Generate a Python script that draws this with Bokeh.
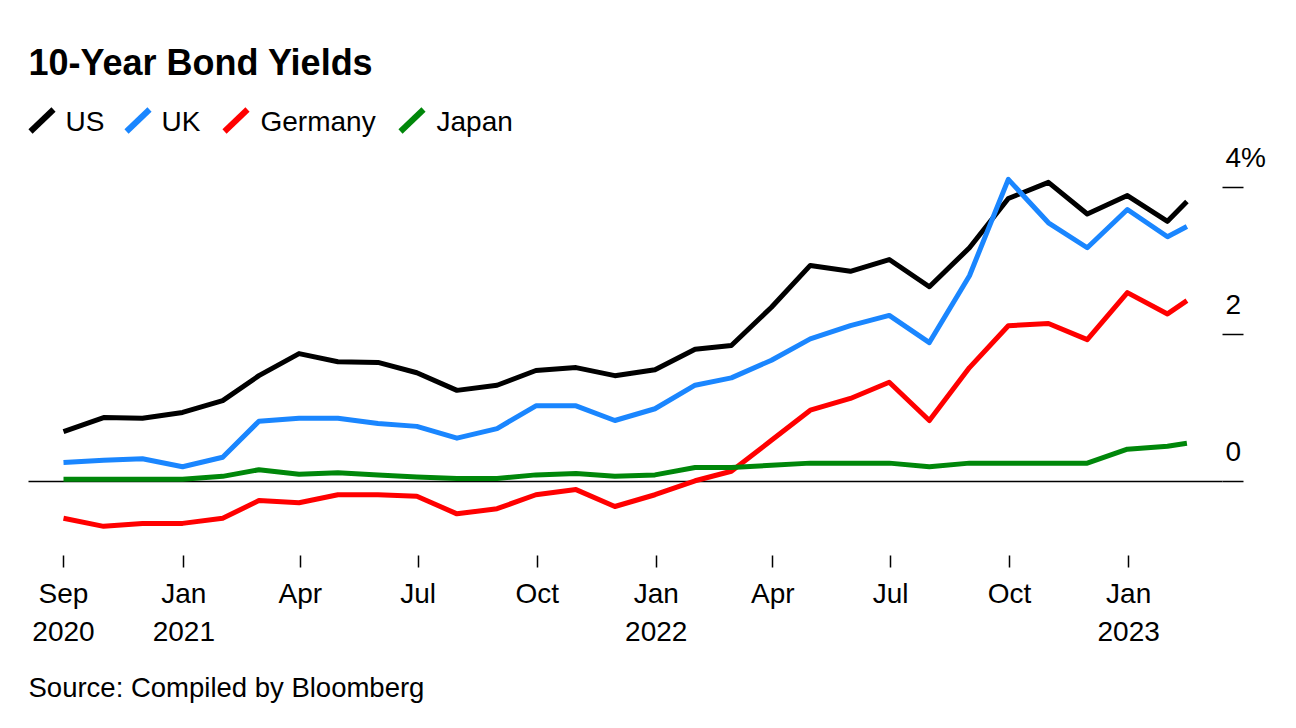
import pandas as pd
from bokeh.plotting import figure
from bokeh.layouts import column
from bokeh.models import Label, Arrow, FixedTicker, Range1d
from bokeh.embed import file_html
from bokeh.resources import INLINE

# ---------------- data ----------------
dates = ["2020-09-30", "2020-10-31", "2020-11-30", "2020-12-31",
         "2021-01-31", "2021-02-28", "2021-03-31", "2021-04-30", "2021-05-31", "2021-06-30",
         "2021-07-31", "2021-08-31", "2021-09-30", "2021-10-31", "2021-11-30", "2021-12-31",
         "2022-01-31", "2022-02-28", "2022-03-31", "2022-04-30", "2022-05-31", "2022-06-30",
         "2022-07-31", "2022-08-31", "2022-09-30", "2022-10-31", "2022-11-30", "2022-12-31",
         "2023-01-31", "2023-02-15"]
us = [0.68, 0.87, 0.86, 0.94, 1.10, 1.44, 1.74, 1.63, 1.62, 1.48, 1.24, 1.31, 1.51, 1.55, 1.44,
      1.52, 1.80, 1.85, 2.37, 2.94, 2.86, 3.02, 2.65, 3.18, 3.85, 4.07, 3.64, 3.89, 3.54, 3.81]
uk = [0.26, 0.29, 0.31, 0.20, 0.33, 0.82, 0.86, 0.86, 0.79, 0.75, 0.59, 0.72, 1.03, 1.03, 0.83,
      0.99, 1.31, 1.41, 1.65, 1.94, 2.12, 2.26, 1.89, 2.80, 4.11, 3.52, 3.18, 3.70, 3.33, 3.47]
germany = [-0.50, -0.61, -0.57, -0.57, -0.50, -0.26, -0.29, -0.18, -0.18, -0.20, -0.44, -0.37,
           -0.18, -0.11, -0.34, -0.18, 0.01, 0.14, 0.56, 0.97, 1.13, 1.35, 0.83, 1.55, 2.12,
           2.15, 1.93, 2.57, 2.28, 2.46]
japan = [0.03, 0.03, 0.03, 0.03, 0.07, 0.16, 0.10, 0.12, 0.09, 0.06, 0.04, 0.04, 0.09, 0.11, 0.07,
         0.09, 0.19, 0.19, 0.22, 0.25, 0.25, 0.25, 0.20, 0.25, 0.25, 0.25, 0.25, 0.44, 0.48, 0.52]

series_names = ["US", "UK", "Germany", "Japan"]
series_colors = ["#000000", "#1a86ff", "#ff0000", "#00870a"]

x_tick_dates = ["2020-09-30", "2021-01-01", "2021-04-01", "2021-07-01", "2021-10-01",
                "2022-01-01", "2022-04-01", "2022-07-01", "2022-10-01", "2023-01-01"]
x_tick_labels = ["Sep\n2020", "Jan\n2021", "Apr", "Jul", "Oct",
                 "Jan\n2022", "Apr", "Jul", "Oct", "Jan\n2023"]
y_ticks = [0, 2, 4]
y_tick_labels = ["0", "2", "4%"]

title_text = "10-Year Bond Yields"
source_text = "Source: Compiled by Bloomberg"

# ---------------- geometry ----------------
FONT = "Liberation Sans"
W = 1280
FRAME_H = 555          # plot frame (title + legend + lines) height in px
FOOT_H = 52
EPOCH = pd.Timestamp("1970-01-01")
DAY_MS = 86400000.0


def to_ms(s):
    return float((pd.Timestamp(s) - EPOCH) / pd.Timedelta(milliseconds=1))


px_per_day = 1104 / 853.0
first_px = 63
x0 = to_ms(dates[0]) - first_px / px_per_day * DAY_MS


def px_to_x(px):
    return x0 + px / px_per_day * DAY_MS


px_per_unit = 73.5
zero_px = 481
y_start = -(FRAME_H - zero_px) / px_per_unit
y_end = zero_px / px_per_unit

x = pd.to_datetime(dates)

p = figure(
    x_axis_type="datetime",
    x_range=Range1d(px_to_x(0), px_to_x(W)),
    y_range=Range1d(y_start, y_end),
    frame_width=W, frame_height=FRAME_H,
    min_border_left=0, min_border_right=0, min_border_top=0, min_border_bottom=105,
    y_axis_location=None,
    output_backend="svg", toolbar_location=None, title=None,
)
p.outline_line_color = None
p.xgrid.visible = False
p.ygrid.visible = False
p.background_fill_color = "white"
p.border_fill_color = "white"

# zero baseline and right-hand tick marks
bl_start, bl_end, tk_end = px_to_x(28), px_to_x(1222), px_to_x(1243)
p.segment(x0=[bl_start], x1=[bl_end], y0=[0], y1=[0], line_color="black", line_width=1.5)
p.segment(x0=[bl_end] * len(y_ticks), x1=[tk_end] * len(y_ticks), y0=y_ticks, y1=y_ticks,
          line_color="black", line_width=1.5)

for vals, name, col in zip([us, uk, germany, japan], series_names, series_colors):
    p.line(x=x, y=vals, line_color=col, line_width=5, line_join="round")

for v, t in zip(y_ticks, y_tick_labels):
    p.add_layout(Label(x=bl_end, y=v, x_offset=3, y_offset=30, text=t,
                       text_font=FONT, text_font_size="28px", text_color="black",
                       text_align="left", text_baseline="alphabetic"))

# x axis
xt = [to_ms(d) for d in x_tick_dates]
xa = p.xaxis[0]
xa.ticker = FixedTicker(ticks=xt)
xa.major_label_overrides = {t: l for t, l in zip(xt, x_tick_labels)}
xa.axis_line_color = None
xa.major_tick_out = 12
xa.major_tick_in = 0
xa.major_tick_line_width = 1.5
xa.major_tick_line_color = "black"
xa.minor_tick_line_color = None
xa.major_label_text_font = FONT
xa.major_label_text_font_size = "28px"
xa.major_label_text_color = "black"
xa.major_label_text_line_height = 1.25
xa.major_label_standoff = 10

# title (screen units inside frame, y measured up from frame bottom)
p.add_layout(Label(x=28, y=FRAME_H - 62, x_units="screen", y_units="screen", text=title_text,
                   text_font=FONT, text_font_size="36px", text_font_style="bold",
                   text_color="black", text_baseline="alphabetic"))

# legend
swatch_x = [30, 126, 224, 400]
label_x = [65, 161, 260, 436]
for name, col, sx, lx in zip(series_names, series_colors, swatch_x, label_x):
    p.add_layout(Arrow(x_start=sx, y_start=FRAME_H - 131, x_end=sx + 23, y_end=FRAME_H - 109,
                       start_units="screen", end_units="screen", end=None,
                       line_color=col, line_width=6))
    p.add_layout(Label(x=lx, y=FRAME_H - 121, x_units="screen", y_units="screen", text=name,
                       text_font=FONT, text_font_size="28px", text_color="black",
                       text_baseline="alphabetic"))

# footer with source
f = figure(x_range=Range1d(0, W), y_range=Range1d(0, FOOT_H),
           frame_width=W, frame_height=FOOT_H, min_border=0,
           x_axis_location=None, y_axis_location=None,
           output_backend="svg", toolbar_location=None, title=None)
f.outline_line_color = None
f.xgrid.visible = False
f.ygrid.visible = False
f.add_layout(Label(x=28, y=25, text=source_text, text_font=FONT, text_font_size="27.5px",
                   text_color="black", text_baseline="alphabetic"))

layout = column(p, f, spacing=0)
open("out.html", "w").write(file_html(layout, INLINE))
